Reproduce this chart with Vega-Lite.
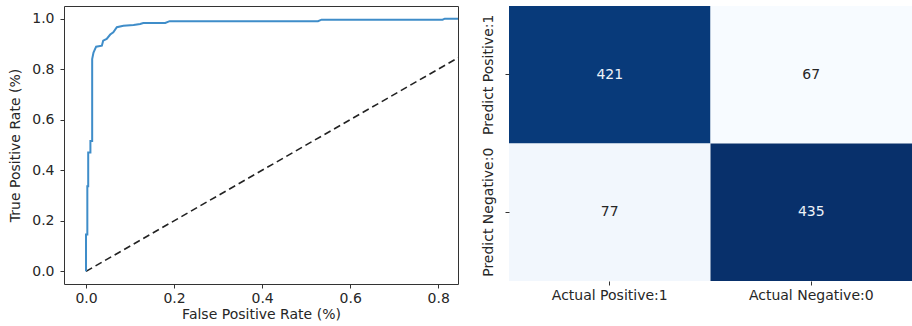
{
  "$schema": "https://vega.github.io/schema/vega-lite/v6.json",
  "padding": {"left": 8, "top": 5, "right": 0, "bottom": 0},
  "background": "white",
  "config": {
    "font": "DejaVu Sans",
    "axis": {
      "labelFont": "DejaVu Sans",
      "titleFont": "DejaVu Sans",
      "labelFontSize": 14,
      "titleFontSize": 14,
      "titleFontWeight": "normal",
      "labelColor": "#262626",
      "titleColor": "#262626",
      "tickColor": "#333333",
      "tickSize": 4,
      "grid": false,
      "domain": false
    }
  },
  "datasets": {
    "roc": [
      {"i": 0, "fpr": 0.0, "tpr": 0.0},
      {"i": 1, "fpr": 0.0, "tpr": 0.146},
      {"i": 2, "fpr": 0.003, "tpr": 0.146},
      {"i": 3, "fpr": 0.003, "tpr": 0.337},
      {"i": 4, "fpr": 0.005, "tpr": 0.337},
      {"i": 5, "fpr": 0.005, "tpr": 0.47},
      {"i": 6, "fpr": 0.01, "tpr": 0.47},
      {"i": 7, "fpr": 0.01, "tpr": 0.516},
      {"i": 8, "fpr": 0.014, "tpr": 0.516},
      {"i": 9, "fpr": 0.014, "tpr": 0.84},
      {"i": 10, "fpr": 0.017, "tpr": 0.866},
      {"i": 11, "fpr": 0.023, "tpr": 0.889},
      {"i": 12, "fpr": 0.036, "tpr": 0.893},
      {"i": 13, "fpr": 0.039, "tpr": 0.913},
      {"i": 14, "fpr": 0.047, "tpr": 0.92},
      {"i": 15, "fpr": 0.055, "tpr": 0.937},
      {"i": 16, "fpr": 0.062, "tpr": 0.946},
      {"i": 17, "fpr": 0.07, "tpr": 0.966},
      {"i": 18, "fpr": 0.085, "tpr": 0.972},
      {"i": 19, "fpr": 0.108, "tpr": 0.975},
      {"i": 20, "fpr": 0.123, "tpr": 0.979},
      {"i": 21, "fpr": 0.13, "tpr": 0.983},
      {"i": 22, "fpr": 0.18, "tpr": 0.983},
      {"i": 23, "fpr": 0.19, "tpr": 0.99},
      {"i": 24, "fpr": 0.527, "tpr": 0.99},
      {"i": 25, "fpr": 0.535, "tpr": 0.996},
      {"i": 26, "fpr": 0.81, "tpr": 0.996},
      {"i": 27, "fpr": 0.815, "tpr": 1.0},
      {"i": 28, "fpr": 1.0, "tpr": 1.0}
    ],
    "diag": [
      {"fpr": 0, "tpr": 0},
      {"fpr": 1, "tpr": 1}
    ],
    "cm": [
      {"actual": "Actual Positive:1", "pred": "Predict Positive:1", "n": 421},
      {"actual": "Actual Negative:0", "pred": "Predict Positive:1", "n": 67},
      {"actual": "Actual Positive:1", "pred": "Predict Negative:0", "n": 77},
      {"actual": "Actual Negative:0", "pred": "Predict Negative:0", "n": 435}
    ]
  },
  "spacing": 21,
  "hconcat": [
    {
      "width": 394,
      "height": 278,
      "view": {"stroke": "#333333", "strokeWidth": 1},
      "layer": [
        {
          "data": {"name": "diag"},
          "mark": {"type": "line", "color": "#222222", "strokeDash": [7, 4], "strokeWidth": 1.6, "clip": true},
          "encoding": {
            "x": {"field": "fpr", "type": "quantitative"},
            "y": {"field": "tpr", "type": "quantitative"}
          }
        },
        {
          "data": {"name": "roc"},
          "mark": {"type": "line", "color": "#3f8dc9", "strokeWidth": 2, "clip": true},
          "encoding": {
            "x": {
              "field": "fpr", "type": "quantitative",
              "scale": {"domain": [-0.05, 0.845], "nice": false, "zero": false},
              "axis": {"values": [0, 0.2, 0.4, 0.6, 0.8], "format": ".1f", "title": "False Positive Rate (%)", "labelPadding": 3, "titlePadding": 2}
            },
            "y": {
              "field": "tpr", "type": "quantitative",
              "scale": {"domain": [-0.05, 1.05], "nice": false, "zero": false},
              "axis": {"values": [0, 0.2, 0.4, 0.6, 0.8, 1.0], "format": ".1f", "title": "True Positive Rate (%)", "labelPadding": 6, "titlePadding": 9}
            },
            "order": {"field": "i", "type": "quantitative"}
          }
        }
      ]
    },
    {
      "width": 403,
      "height": 275,
      "view": {"stroke": null},
      "data": {"name": "cm"},
      "encoding": {
        "x": {
          "field": "actual", "type": "nominal", "sort": ["Actual Positive:1", "Actual Negative:0"],
          "scale": {"paddingInner": 0, "paddingOuter": 0},
          "axis": {"title": null, "labelAngle": 0, "labelPadding": 3}
        },
        "y": {
          "field": "pred", "type": "nominal", "sort": ["Predict Positive:1", "Predict Negative:0"],
          "scale": {"paddingInner": 0, "paddingOuter": 0},
          "axis": {"title": null, "labelAngle": -90, "labelAlign": "center", "labelBaseline": "bottom", "labelPadding": 10}
        }
      },
      "layer": [
        {
          "mark": {"type": "rect", "stroke": null},
          "encoding": {
            "color": {
              "field": "n", "type": "quantitative",
              "scale": {"domain": [67, 77, 421, 435], "range": ["#f7fbff", "#f2f7fd", "#083a7a", "#08306b"]},
              "legend": null
            }
          }
        },
        {
          "mark": {"type": "text", "fontSize": 14, "font": "DejaVu Sans"},
          "encoding": {
            "text": {"field": "n", "type": "quantitative"},
            "color": {
              "condition": {"test": "datum.n > 250", "value": "#eef2f8"},
              "value": "#262626"
            }
          }
        }
      ]
    }
  ]
}
